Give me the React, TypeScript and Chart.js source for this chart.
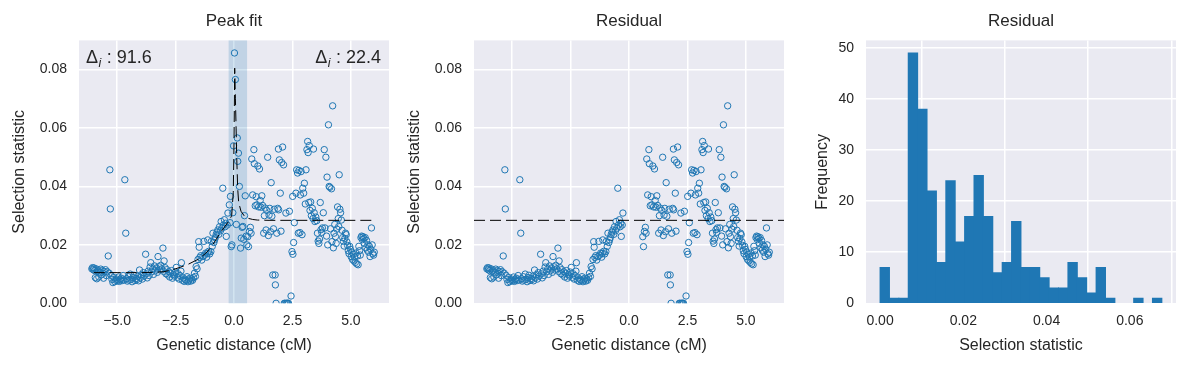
import React, { useEffect, useRef } from "react";
import { Chart, registerables } from "chart.js";

Chart.register(...registerables);

const FONT = "'Liberation Sans', Arial, 'DejaVu Sans', sans-serif";
const TEXT = "#262626";
const C0 = "#1f77b4";
const BG = "#eaeaf2";

// ---- axis ticks ----
const distanceTicks = [-5, -2.5, 0, 2.5, 5];
const distanceTickLabels = ["\u22125.0", "\u22122.5", "0.0", "2.5", "5.0"];
const statTicks = [0, 0.02, 0.04, 0.06, 0.08];
const statTickLabels = ["0.00", "0.02", "0.04", "0.06", "0.08"];
const histXTicks = [0, 0.02, 0.04, 0.06];
const histXTickLabels = ["0.00", "0.02", "0.04", "0.06"];
const freqTicks = [0, 10, 20, 30, 40, 50];
const freqTickLabels = ["0", "10", "20", "30", "40", "50"];

// ---- axis limits ----
const distanceRange = [-6.63, 6.63];
const statRange = [0, 0.09];
const histXRange = [-0.00338, 0.0711];
const freqRange = [0, 51.45];

// ---- data: (genetic distance cM, selection statistic) ----
const selectionPoints: [number, number][] = [
  [-6.08, 0.0118], [-6.05, 0.0122], [-6.02, 0.0115], [-5.99, 0.0121], [-5.96, 0.0112], [-5.93, 0.0088],
  [-5.9, 0.0118], [-5.87, 0.0084], [-5.84, 0.011], [-5.81, 0.0114], [-5.78, 0.009], [-5.74, 0.0106],
  [-5.7, 0.0117], [-5.66, 0.0098], [-5.62, 0.0112], [-5.58, 0.0086], [-5.54, 0.0109], [-5.5, 0.0115],
  [-5.46, 0.0095], [-5.42, 0.0108], [-5.38, 0.0162], [-5.34, 0.0103], [-5.31, 0.0457], [-5.29, 0.0323],
  [-5.26, 0.0096], [-5.22, 0.0082], [-5.18, 0.0071], [-5.14, 0.0088], [-5.1, 0.0074], [-5.06, 0.0079],
  [-5.02, 0.0083], [-4.98, 0.0077], [-4.94, 0.009], [-4.9, 0.0075], [-4.86, 0.0081], [-4.82, 0.0086],
  [-4.78, 0.0078], [-4.74, 0.0095], [-4.7, 0.008], [-4.67, 0.0423], [-4.63, 0.024], [-4.6, 0.0084],
  [-4.56, 0.0076], [-4.52, 0.0091], [-4.48, 0.0079], [-4.44, 0.01], [-4.4, 0.0082], [-4.36, 0.0074],
  [-4.32, 0.0088], [-4.28, 0.0096], [-4.24, 0.0078], [-4.2, 0.0085], [-4.16, 0.0081], [-4.12, 0.0092],
  [-4.08, 0.0077], [-4.04, 0.0114], [-4.0, 0.0088],
  [-3.96, 0.0098], [-3.92, 0.0083], [-3.88, 0.0105], [-3.84, 0.0093], [-3.78, 0.0168], [-3.75, 0.0101],
  [-3.71, 0.0087], [-3.67, 0.011], [-3.63, 0.0095], [-3.59, 0.0124], [-3.56, 0.0139], [-3.52, 0.0108],
  [-3.48, 0.0117], [-3.44, 0.0099], [-3.4, 0.0128], [-3.36, 0.0112], [-3.32, 0.0121], [-3.28, 0.0106],
  [-3.25, 0.016], [-3.21, 0.0125], [-3.17, 0.0114], [-3.13, 0.013], [-3.09, 0.0118], [-3.04, 0.0189],
  [-3.01, 0.0109], [-2.99, 0.0145], [-2.95, 0.0122], [-2.91, 0.0101],
  [-2.87, 0.0115], [-2.83, 0.0097], [-2.79, 0.0108], [-2.75, 0.009], [-2.71, 0.0103], [-2.67, 0.0112],
  [-2.63, 0.0086], [-2.59, 0.0099], [-2.55, 0.0093], [-2.51, 0.0107], [-2.47, 0.0123], [-2.43, 0.0089],
  [-2.39, 0.0101], [-2.35, 0.0083], [-2.31, 0.0095], [-2.27, 0.011], [-2.25, 0.0139], [-2.21, 0.0079],
  [-2.17, 0.0087], [-2.13, 0.0075], [-2.09, 0.0082], [-2.05, 0.0078], [-2.01, 0.0091], [-1.97, 0.0074],
  [-1.93, 0.008], [-1.89, 0.0086], [-1.85, 0.0076], [-1.81, 0.0083], [-1.77, 0.0079], [-1.73, 0.0088],
  [-1.69, 0.0103], [-1.65, 0.0092],
  [-1.62, 0.0126], [-1.58, 0.0118], [-1.54, 0.015], [-1.51, 0.0211], [-1.49, 0.0192], [-1.46, 0.0157],
  [-1.42, 0.0163], [-1.38, 0.0148], [-1.33, 0.016], [-1.29, 0.0212], [-1.25, 0.0165], [-1.21, 0.0172],
  [-1.17, 0.0158], [-1.14, 0.0171], [-1.12, 0.0217], [-1.08, 0.0178], [-1.04, 0.0169], [-0.99, 0.0177],
  [-0.97, 0.0212], [-0.93, 0.0195], [-0.9, 0.024], [-0.86, 0.0208], [-0.83, 0.0217], [-0.8, 0.0225],
  [-0.76, 0.0236], [-0.72, 0.0244], [-0.69, 0.0251], [-0.65, 0.0236], [-0.62, 0.0262], [-0.58, 0.0248],
  [-0.55, 0.028], [-0.52, 0.0257], [-0.48, 0.0394], [-0.45, 0.0268], [-0.41, 0.0286], [-0.38, 0.0262],
  [-0.35, 0.0274], [-0.33, 0.0229], [-0.29, 0.0268], [-0.26, 0.0309],
  [-0.2, 0.0337], [-0.17, 0.0276], [-0.15, 0.0366], [-0.12, 0.0194], [-0.09, 0.02], [-0.05, 0.031],
  [-0.02, 0.0539], [0.02, 0.0857], [0.06, 0.0766], [0.1, 0.027], [0.14, 0.0566], [0.16, 0.0486],
  [0.19, 0.0514], [0.23, 0.04], [0.28, 0.0189], [0.31, 0.0223], [0.35, 0.026], [0.38, 0.0263],
  [0.42, 0.0219], [0.45, 0.03], [0.48, 0.0368], [0.52, 0.023], [0.55, 0.02],
  [0.59, 0.0228], [0.62, 0.0194], [0.66, 0.0246], [0.7, 0.026], [0.73, 0.024], [0.76, 0.0494],
  [0.8, 0.0371], [0.85, 0.0526], [0.87, 0.0478], [0.91, 0.0334], [0.95, 0.0365], [0.98, 0.0337],
  [1.02, 0.047], [1.05, 0.033], [1.09, 0.046], [1.12, 0.0352], [1.15, 0.0329], [1.19, 0.0368],
  [1.22, 0.0335], [1.27, 0.024], [1.3, 0.03],
  [1.33, 0.0326], [1.37, 0.0251], [1.4, 0.0318], [1.44, 0.05], [1.47, 0.0232], [1.5, 0.0302],
  [1.53, 0.0325], [1.56, 0.0245], [1.59, 0.0413], [1.62, 0.0298], [1.66, 0.0097], [1.69, 0.0255],
  [1.72, 0.0322], [1.76, 0.0097], [1.77, 0.0063], [1.8, 0.0], [1.83, 0.024], [1.87, 0.0325],
  [1.9, 0.0528], [1.91, 0.032], [1.94, 0.0491], [1.98, 0.0377], [2.01, 0.0247],
  [2.04, 0.0482], [2.08, 0.0535], [2.12, 0.0474], [2.15, 0.0], [2.19, 0.0], [2.22, 0.0309],
  [2.24, 0.0], [2.27, 0.0], [2.3, 0.0], [2.33, 0.0], [2.37, 0.0315], [2.44, 0.0025],
  [2.48, 0.0177], [2.51, 0.0366], [2.52, 0.0168], [2.55, 0.0208], [2.58, 0.0276], [2.65, 0.0377],
  [2.68, 0.0457], [2.72, 0.0446],
  [2.75, 0.024], [2.78, 0.0455], [2.82, 0.0242], [2.84, 0.0371], [2.87, 0.0451], [2.91, 0.0235],
  [2.94, 0.0394], [2.98, 0.0377], [3.01, 0.0411], [3.05, 0.034], [3.08, 0.0457], [3.12, 0.0526],
  [3.15, 0.0554], [3.17, 0.0516], [3.2, 0.0345], [3.22, 0.054], [3.25, 0.0318], [3.28, 0.0347],
  [3.31, 0.03], [3.35, 0.0325], [3.38, 0.029], [3.4, 0.0528], [3.43, 0.031], [3.46, 0.028],
  [3.5, 0.0295],
  [3.54, 0.0283], [3.57, 0.024], [3.6, 0.0213], [3.63, 0.0205], [3.66, 0.022], [3.69, 0.0345],
  [3.72, 0.0252], [3.75, 0.0243], [3.78, 0.0258], [3.82, 0.031], [3.86, 0.0526], [3.89, 0.0258],
  [3.93, 0.05], [3.96, 0.023], [3.98, 0.0432], [4.01, 0.02], [4.04, 0.0611], [4.07, 0.04],
  [4.1, 0.0397], [4.13, 0.0255], [4.17, 0.0392], [4.19, 0.0211], [4.22, 0.0676], [4.25, 0.019],
  [4.28, 0.024],
  [4.31, 0.027], [4.34, 0.0228], [4.37, 0.0205], [4.4, 0.0254], [4.43, 0.033], [4.46, 0.029],
  [4.48, 0.0263], [4.5, 0.044], [4.53, 0.0322], [4.56, 0.031], [4.59, 0.0285], [4.62, 0.025],
  [4.65, 0.0225], [4.68, 0.0212], [4.71, 0.0196], [4.74, 0.0222], [4.77, 0.024], [4.8, 0.0235],
  [4.83, 0.021], [4.86, 0.0198], [4.89, 0.018], [4.92, 0.017], [4.95, 0.0195], [4.98, 0.0185],
  [5.01, 0.016], [5.04, 0.0175], [5.07, 0.015], [5.1, 0.0168], [5.13, 0.0145], [5.16, 0.0158],
  [5.19, 0.014], [5.22, 0.0172], [5.25, 0.0135], [5.28, 0.0162], [5.31, 0.0132], [5.34, 0.0195],
  [5.37, 0.018], [5.4, 0.0165], [5.43, 0.0225], [5.46, 0.023], [5.49, 0.0218], [5.52, 0.0228],
  [5.55, 0.0222], [5.58, 0.0205], [5.61, 0.0225], [5.64, 0.019], [5.67, 0.0215], [5.7, 0.0182],
  [5.73, 0.02], [5.76, 0.0175], [5.79, 0.0195], [5.82, 0.016], [5.85, 0.0185], [5.88, 0.0258],
  [5.91, 0.02], [5.94, 0.017], [5.97, 0.0165], [6.0, 0.0175],
];

// fitted peak model
const fitX = [-6.0, -5.0, -4.0, -3.5, -3.0, -2.5, -2.0, -1.5, -1.2, -1.0, -0.8, -0.6, -0.4, -0.2, -0.1, -0.03, 0.0, 0.03, 0.06, 0.09, 0.12, 0.16, 0.2, 0.3, 0.45, 0.6, 0.8, 1.0, 1.5, 6.0];
const fitY = [0.0105, 0.0105, 0.0105, 0.0106, 0.0108, 0.0118, 0.0132, 0.0152, 0.0172, 0.019, 0.0214, 0.024, 0.0262, 0.0284, 0.03, 0.038, 0.055, 0.0805, 0.07, 0.06, 0.049, 0.039, 0.0345, 0.0315, 0.0298, 0.0291, 0.0287, 0.0285, 0.0284, 0.0284];

const residualLevel = 0.0284;
const peakWindow = [-0.23, 0.56];
const deltaLabels = ["91.6", "22.4"];
const panelTitles = ["Peak fit", "Residual", "Residual"];

// histogram of residual selection statistic
const histRange = [0, 0.0677];
const histBinCounts = [7, 1, 1, 49, 38, 22, 8, 24, 12, 17, 25, 17, 6, 8, 16, 7, 7, 5, 3, 3, 8, 5, 2, 7, 1, 0, 0, 1, 0, 1];

// ---------------- helpers ----------------
const bgPlugin = {
  id: "bgPlugin",
  beforeDraw(chart: any) {
    const { ctx, chartArea: a } = chart;
    ctx.save();
    ctx.fillStyle = BG;
    ctx.fillRect(a.left, a.top, a.right - a.left, a.bottom - a.top);
    ctx.restore();
  },
};

const panelTitlePlugin = {
  id: "panelTitle",
  afterDraw(chart: any, _args: any, opts: any) {
    const { ctx, chartArea: a } = chart;
    ctx.save();
    ctx.fillStyle = TEXT;
    ctx.font = `17px ${FONT}`;
    ctx.textAlign = "center";
    ctx.textBaseline = "middle";
    ctx.fillText(opts.text, (a.left + a.right) / 2, 21.2);
    ctx.restore();
  },
};

const bandPlugin = {
  id: "bandPlugin",
  beforeDatasetsDraw(chart: any) {
    const { ctx, chartArea: a, scales } = chart;
    const x0 = scales.x.getPixelForValue(peakWindow[0]);
    const x1 = scales.x.getPixelForValue(peakWindow[1]);
    ctx.save();
    ctx.fillStyle = "rgba(31,119,180,0.2)";
    ctx.fillRect(x0, a.top, x1 - x0, a.bottom - a.top);
    ctx.restore();
  },
};

function drawDelta(ctx: CanvasRenderingContext2D, value: string, x: number, y: number, alignRight: boolean) {
  const big = `18px ${FONT}`;
  const small = `italic 12.5px ${FONT}`;
  ctx.font = big;
  const wD = ctx.measureText("\u0394").width;
  const rest = " : " + value;
  const wR = ctx.measureText(rest).width;
  ctx.font = small;
  const wi = ctx.measureText("i").width + 1;
  const total = wD + wi + wR;
  const sx = alignRight ? x - total : x;
  ctx.fillStyle = TEXT;
  ctx.textBaseline = "alphabetic";
  ctx.textAlign = "left";
  ctx.font = big;
  ctx.fillText("\u0394", sx, y);
  ctx.font = small;
  ctx.fillText("i", sx + wD + 0.5, y + 4);
  ctx.font = big;
  ctx.fillText(rest, sx + wD + wi, y);
}

const deltaPlugin = {
  id: "deltaPlugin",
  afterDatasetsDraw(chart: any) {
    const { ctx, chartArea: a } = chart;
    ctx.save();
    drawDelta(ctx, deltaLabels[0], a.left + 7, a.top + 23, false);
    drawDelta(ctx, deltaLabels[1], a.right - 8, a.top + 23, true);
    ctx.restore();
  },
};

function fixedTicks(values: number[]) {
  return (scale: any) => {
    scale.ticks = values.map((v) => ({ value: v }));
  };
}

function labelFor(values: number[], labels: string[]) {
  return (v: any) => {
    const i = values.findIndex((t) => Math.abs(t - Number(v)) < 1e-9);
    return i >= 0 ? labels[i] : "";
  };
}

function baseOptions(opts: {
  title: string;
  xTitle: string;
  yTitle: string;
  xRange: number[];
  yRange: number[];
  xTicks: number[];
  xLabels: string[];
  yTicks: number[];
  yLabels: string[];
  yAxisWidth: number;
  yTitlePad: number;
  rightPad: number;
}) {
  return {
    animation: false,
    responsive: false,
    devicePixelRatio: 1,
    layout: { padding: { left: 0, right: opts.rightPad, top: 40.4, bottom: 0 } },
    plugins: {
      legend: { display: false },
      tooltip: { enabled: false },
      title: { display: false },
      panelTitle: { text: opts.title },
    },
    scales: {
      x: {
        type: "linear",
        min: opts.xRange[0],
        max: opts.xRange[1],
        offset: false,
        afterBuildTicks: fixedTicks(opts.xTicks),
        afterFit: (s: any) => {
          s.height = 64.7;
        },
        ticks: {
          callback: labelFor(opts.xTicks, opts.xLabels),
          color: TEXT,
          font: { family: FONT, size: 14 },
          padding: 9,
          maxRotation: 0,
          autoSkip: false,
        },
        grid: { color: "#ffffff", lineWidth: 1.5, drawTicks: false },
        border: { display: false },
        title: {
          display: true,
          text: opts.xTitle,
          color: TEXT,
          font: { family: FONT, size: 16, lineHeight: 1.2 },
          padding: { top: 0, bottom: 12.7 },
        },
      },
      y: {
        type: "linear",
        min: opts.yRange[0],
        max: opts.yRange[1],
        afterBuildTicks: fixedTicks(opts.yTicks),
        afterFit: (s: any) => {
          s.width = opts.yAxisWidth;
        },
        ticks: {
          callback: labelFor(opts.yTicks, opts.yLabels),
          color: TEXT,
          font: { family: FONT, size: 14 },
          padding: 12,
          autoSkip: false,
        },
        grid: { color: "#ffffff", lineWidth: 1.5, drawTicks: false },
        border: { display: false },
        title: {
          display: true,
          text: opts.yTitle,
          color: TEXT,
          font: { family: FONT, size: 16, lineHeight: 1.2 },
          padding: { top: opts.yTitlePad, bottom: 0 },
        },
      },
    },
  };
}

function scatterSet(pts: { x: number; y: number }[]) {
  return {
    data: pts,
    pointRadius: 3.2,
    pointBorderWidth: 1,
    borderColor: C0,
    backgroundColor: "rgba(0,0,0,0)",
    pointBackgroundColor: "rgba(0,0,0,0)",
    pointBorderColor: C0,
    order: 1,
  };
}

function dashedSet(pts: { x: number; y: number }[]) {
  return {
    type: "line",
    data: pts,
    borderColor: "#000000",
    borderWidth: 1,
    borderDash: [11, 5],
    pointRadius: 0,
    fill: false,
    tension: 0,
    order: 0,
  };
}

function peakFitConfig(): any {
  const pts = selectionPoints.map(([x, y]) => ({ x, y }));
  const fit = fitX.map((x, i) => ({ x, y: fitY[i] }));
  return {
    type: "scatter",
    data: { datasets: [dashedSet(fit), scatterSet(pts)] },
    options: baseOptions({
      title: panelTitles[0],
      xTitle: "Genetic distance (cM)",
      yTitle: "Selection statistic",
      xRange: distanceRange,
      yRange: statRange,
      xTicks: distanceTicks,
      xLabels: distanceTickLabels,
      yTicks: statTicks,
      yLabels: statTickLabels,
      yAxisWidth: 79,
      yTitlePad: 10.4,
      rightPad: 6,
    }),
    plugins: [bgPlugin, bandPlugin, deltaPlugin, panelTitlePlugin],
  };
}

function residualConfig(): any {
  const pts = selectionPoints
    .filter(([x]) => x < peakWindow[0] || x > peakWindow[1])
    .map(([x, y]) => ({ x, y }));
  const level = [
    { x: distanceRange[0], y: residualLevel },
    { x: distanceRange[1], y: residualLevel },
  ];
  return {
    type: "scatter",
    data: { datasets: [dashedSet(level), scatterSet(pts)] },
    options: baseOptions({
      title: panelTitles[1],
      xTitle: "Genetic distance (cM)",
      yTitle: "Selection statistic",
      xRange: distanceRange,
      yRange: statRange,
      xTicks: distanceTicks,
      xLabels: distanceTickLabels,
      yTicks: statTicks,
      yLabels: statTickLabels,
      yAxisWidth: 79,
      yTitlePad: 10.4,
      rightPad: 6,
    }),
    plugins: [bgPlugin, panelTitlePlugin],
  };
}

function histogramConfig(): any {
  const bw = (histRange[1] - histRange[0]) / histBinCounts.length;
  const bars = histBinCounts.map((c, i) => ({ x: histRange[0] + (i + 0.5) * bw, y: c > 0 ? c : null }));
  return {
    type: "bar",
    data: {
      datasets: [
        {
          data: bars,
          backgroundColor: C0,
          borderWidth: 0,
          barPercentage: 1,
          categoryPercentage: 1,
          inflateAmount: 0.5,
        },
      ],
    },
    options: baseOptions({
      title: panelTitles[2],
      xTitle: "Selection statistic",
      yTitle: "Frequency",
      xRange: histXRange,
      yRange: freqRange,
      xTicks: histXTicks,
      xLabels: histXTickLabels,
      yTicks: freqTicks,
      yLabels: freqTickLabels,
      yAxisWidth: 76,
      yTitlePad: 22.7,
      rightPad: 15,
    }),
    plugins: [bgPlugin, panelTitlePlugin],
  };
}

export default function App() {
  const r1 = useRef<HTMLCanvasElement>(null);
  const r2 = useRef<HTMLCanvasElement>(null);
  const r3 = useRef<HTMLCanvasElement>(null);

  useEffect(() => {
    const charts = [
      new Chart(r1.current as HTMLCanvasElement, peakFitConfig()),
      new Chart(r2.current as HTMLCanvasElement, residualConfig()),
      new Chart(r3.current as HTMLCanvasElement, histogramConfig()),
    ];
    return () => charts.forEach((c) => c.destroy());
  }, []);

  const cs = (left: number, width: number): React.CSSProperties => ({
    position: "absolute",
    left,
    top: 0,
    width,
    height: 368,
  });

  return (
    <div style={{ position: "absolute", left: 0, top: 0, width: 1191, height: 368, background: "#ffffff" }}>
      <canvas ref={r1} width={395} height={368} style={cs(0, 395)} />
      <canvas ref={r2} width={395} height={368} style={cs(395, 395)} />
      <canvas ref={r3} width={401} height={368} style={cs(790, 401)} />
    </div>
  );
}
